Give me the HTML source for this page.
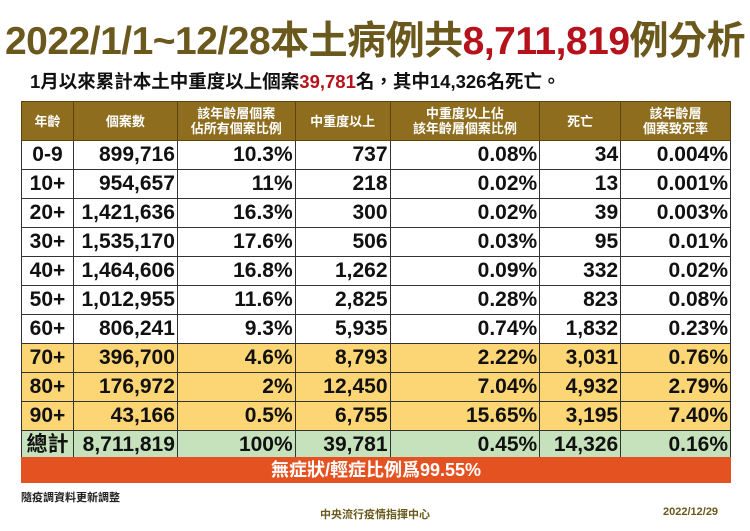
<!DOCTYPE html><html><head><meta charset="utf-8"><style>
body{margin:0;width:750px;height:531px;background:#fff;position:relative;font-family:"Liberation Sans","Noto Sans CJK TC",sans-serif;overflow:hidden}
.t{position:absolute;left:0;width:750px;text-align:center;top:19px;font-size:39px;font-weight:bold;color:#6a581c;letter-spacing:-0.5px;white-space:nowrap;line-height:46px}
.s{position:absolute;left:30px;top:68px;font-size:18.5px;font-weight:bold;color:#111;white-space:nowrap}
.r{color:#b5121b}
table{position:absolute;left:21px;top:101px;border-collapse:collapse;width:710px}
td{border:1px solid #333;padding:0 2px 0 0;height:28px;font-size:21px;font-weight:bold;text-align:right;color:#111;white-space:nowrap;line-height:28px}
td:first-child{text-align:center;padding:0}
th{background:#8e6d1e;color:#fff;font-size:13px;font-weight:bold;height:36px;border:1px solid #5a4510;line-height:15px}
.y td{background:#fcd574}
.g td{background:#c6e2bc}
.o{position:absolute;left:21px;top:457px;width:710px;height:26px;background:#e55221;color:#fff;text-align:center;font-size:18px;font-weight:bold;line-height:26px}
.f1{position:absolute;left:21px;top:489px;font-size:11px;font-weight:bold;color:#222}
.f2{position:absolute;left:0;width:750px;text-align:center;top:506px;font-size:11px;font-weight:bold;color:#6a581c}
.f3{position:absolute;left:663px;top:506px;font-size:11px;font-weight:bold;color:#6a581c}
</style></head><body>
<div class="t">2022/1/1~12/28本土病例共<span class="r">8,711,819</span>例分析</div>
<div class="s">1月以來累計本土中重度以上個案<span class="r">39,781</span>名，其中14,326名死亡。</div>
<table>
<colgroup><col style="width:52px"><col style="width:104px"><col style="width:118px"><col style="width:95px"><col style="width:150px"><col style="width:81px"><col style="width:110px"></colgroup>
<tr><th>年齡</th><th>個案數</th><th>該年齡層個案<br>佔所有個案比例</th><th>中重度以上</th><th>中重度以上佔<br>該年齡層個案比例</th><th>死亡</th><th>該年齡層<br>個案致死率</th></tr>
<tr><td>0-9</td><td>899,716</td><td>10.3%</td><td>737</td><td>0.08%</td><td>34</td><td>0.004%</td></tr>
<tr><td>10+</td><td>954,657</td><td>11%</td><td>218</td><td>0.02%</td><td>13</td><td>0.001%</td></tr>
<tr><td>20+</td><td>1,421,636</td><td>16.3%</td><td>300</td><td>0.02%</td><td>39</td><td>0.003%</td></tr>
<tr><td>30+</td><td>1,535,170</td><td>17.6%</td><td>506</td><td>0.03%</td><td>95</td><td>0.01%</td></tr>
<tr><td>40+</td><td>1,464,606</td><td>16.8%</td><td>1,262</td><td>0.09%</td><td>332</td><td>0.02%</td></tr>
<tr><td>50+</td><td>1,012,955</td><td>11.6%</td><td>2,825</td><td>0.28%</td><td>823</td><td>0.08%</td></tr>
<tr><td>60+</td><td>806,241</td><td>9.3%</td><td>5,935</td><td>0.74%</td><td>1,832</td><td>0.23%</td></tr>
<tr class="y"><td>70+</td><td>396,700</td><td>4.6%</td><td>8,793</td><td>2.22%</td><td>3,031</td><td>0.76%</td></tr>
<tr class="y"><td>80+</td><td>176,972</td><td>2%</td><td>12,450</td><td>7.04%</td><td>4,932</td><td>2.79%</td></tr>
<tr class="y"><td>90+</td><td>43,166</td><td>0.5%</td><td>6,755</td><td>15.65%</td><td>3,195</td><td>7.40%</td></tr>
<tr class="g"><td>總計</td><td>8,711,819</td><td>100%</td><td>39,781</td><td>0.45%</td><td>14,326</td><td>0.16%</td></tr>
</table>
<div class="o">無症狀/輕症比例爲99.55%</div>
<div class="f1">隨疫調資料更新調整</div>
<div class="f2">中央流行疫情指揮中心</div>
<div class="f3">2022/12/29</div>
</body></html>
